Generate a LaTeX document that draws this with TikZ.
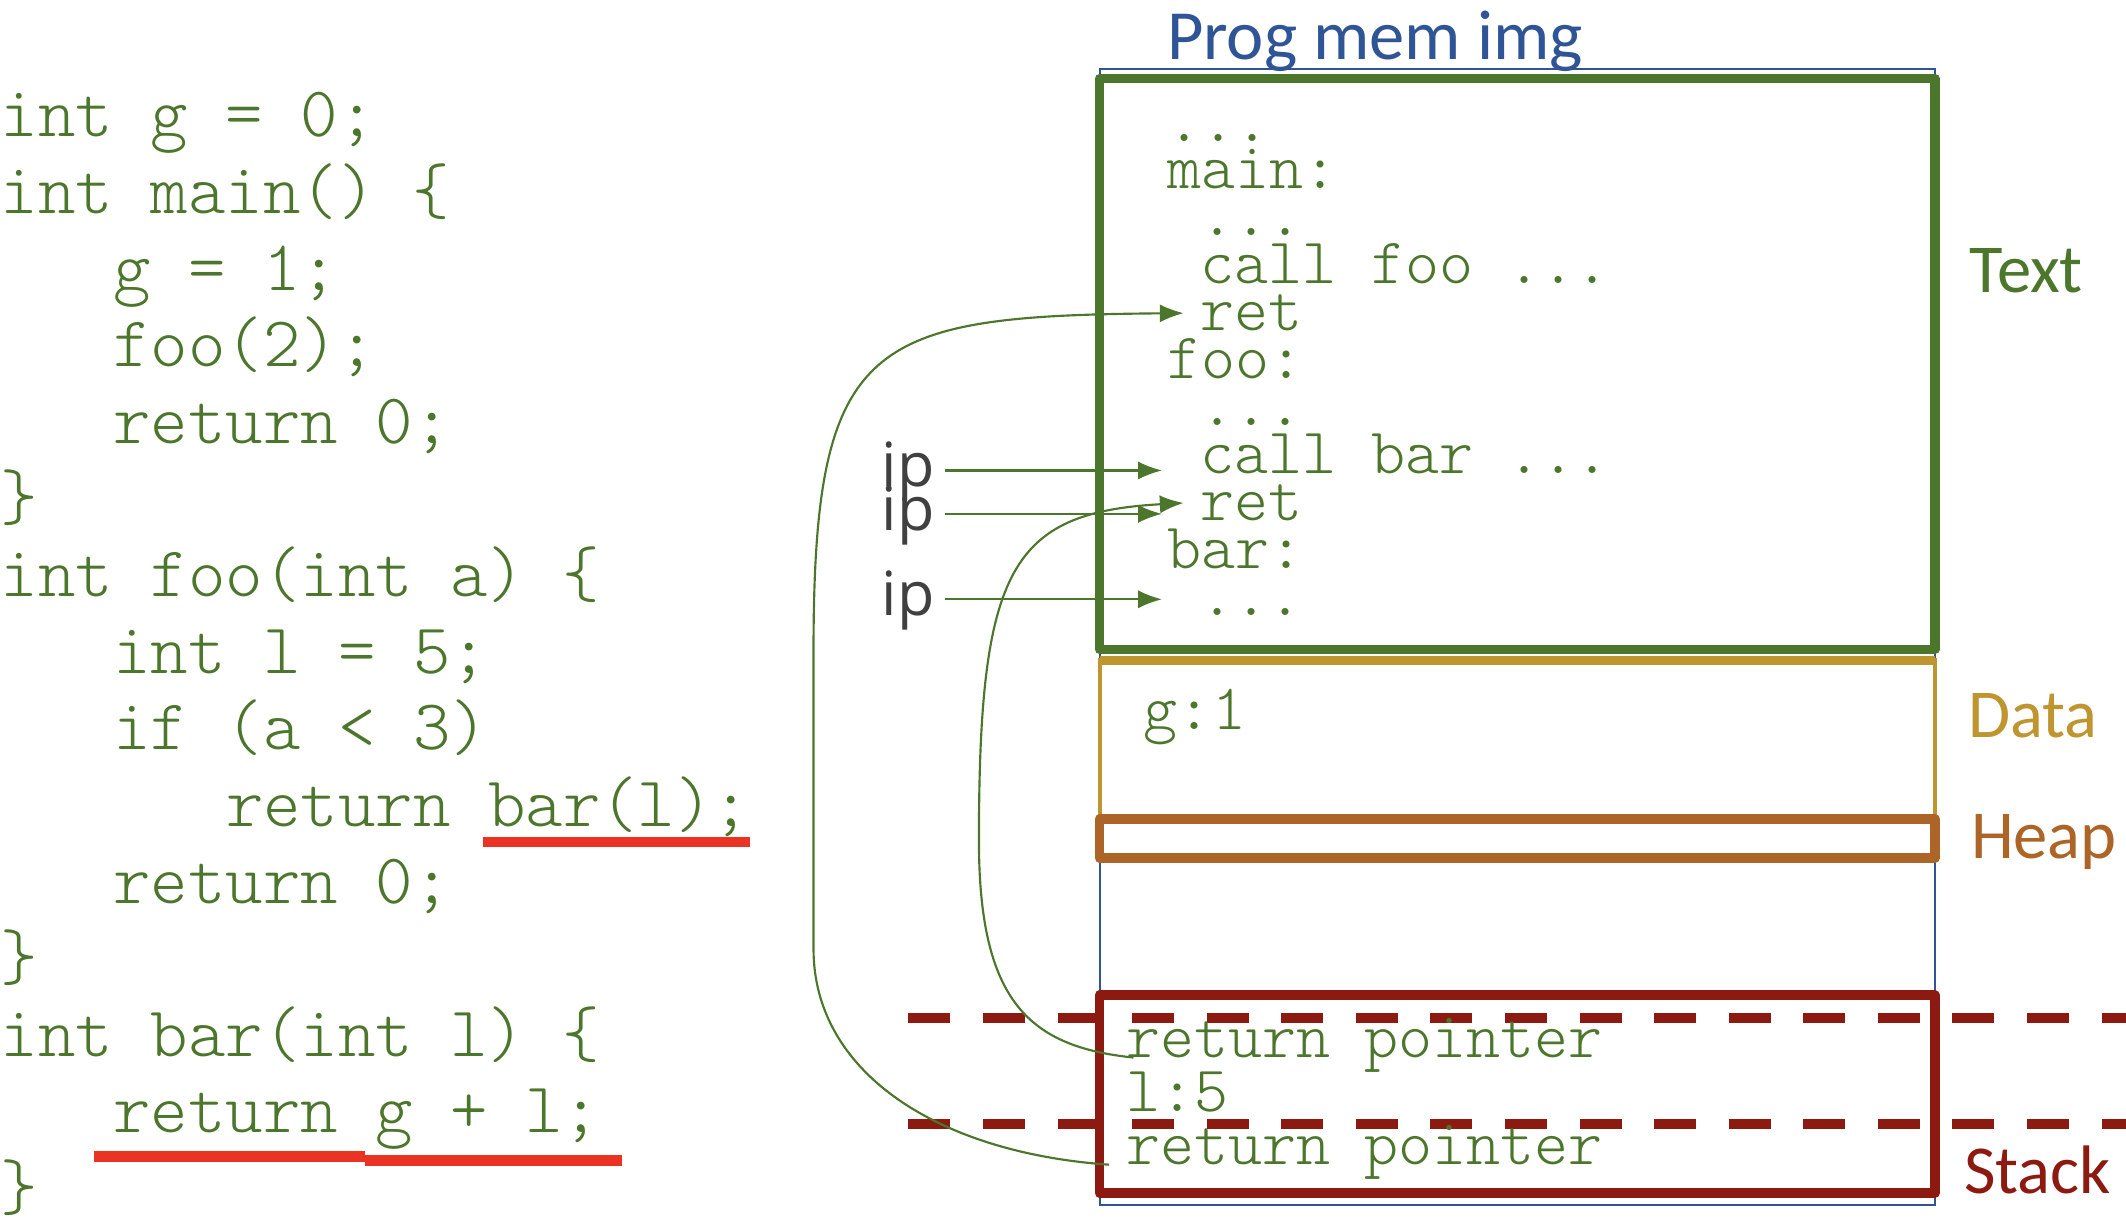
\documentclass[tikz,border=0pt]{standalone}
\usepackage{fontspec}
\usepackage{tikz}
\usetikzlibrary{arrows.meta}
\usetikzlibrary{calc}
\newfontfamily\codefont{lmmonolt10-regular.otf}
\newfontfamily\labelfont{Carlito}
\newfontfamily\ipfont{Open Sans}
\definecolor{codegreen}{RGB}{76,118,44}
\definecolor{memblue}{RGB}{47,85,151}
\definecolor{datagold}{RGB}{191,149,48}
\definecolor{heapbrown}{RGB}{173,101,39}
\definecolor{stackred}{RGB}{140,26,17}
\definecolor{ulred}{RGB}{234,51,35}
\definecolor{ipgray}{RGB}{64,64,64}

\begin{document}
\begin{tikzpicture}[x=0.1mm, y=-0.1mm,
    code/.style={font=\codefont\fontsize{14.97}{16}\selectfont, text=codegreen, anchor=base west, inner sep=0pt},
    asm/.style={font=\codefont\fontsize{13.6}{10}\selectfont, text=codegreen, anchor=base west, inner xsep=1.2mm, inner ysep=0pt},
    seglabel/.style={font=\labelfont\fontsize{14.4}{16}\selectfont, anchor=base west, inner sep=0pt},
    iplabel/.style={font=\ipfont\fontsize{12.8}{14}\selectfont, text=ipgray, anchor=east, text height=6.8pt, text depth=0pt, inner ysep=0pt, inner xsep=2pt},
    ptr/.style={-{Latex[length=5pt, width=3.8pt]}, codegreen, line width=0.45pt},
    segbox/.style={line width=2pt, line join=round},
    framedash/.style={stackred, line width=2pt, dash pattern=on 0.31cm off 0.24cm},
    under/.style={ulred, line width=2.2pt}]
    \useasboundingbox (0,0) rectangle (1568,903);

    \foreach \ind/\txt [count=\i] in {0/{int g = 0;}, 0/{int main() \{}, 1/{g = 1;}, 1/{foo(2);},
        1/{return 0;}, 0/{\}}, 0/{int foo(int a) \{}, 1/{int l = 5;}, 1/{if (a < 3)},
        2/{return bar(l);}, 1/{return 0;}, 0/{\}}, 0/{int bar(int l) \{}, 1/{return g + l;}, 0/{\}}}
        \node[code] (c\i) at ({\ind*83}, {101+(\i-1)*56.5}) {\txt};
    \draw[under] (356,621) -- (553,621);
    \draw[under] (69,853) -- (269,853);
    \draw[under] (269,856) -- (459,856);

    \draw[memblue, line width=0.45pt] (811,51) rectangle (1427,889);
    \draw[datagold, line width=0.8pt] (811,487) rectangle (1427,604);
    \draw[datagold, segbox] (811,487) -- (1427,487);
    \draw[heapbrown, segbox] (811,604) rectangle (1427,633);
    \draw[codegreen, segbox] (811,58) rectangle (1427,479);
    \draw[stackred, segbox] (811,734) rectangle (1427,880);
    \draw[framedash] (670,751) -- (1568,751);
    \draw[framedash] (670,829) -- (1568,829);

    \node[seglabel, text=memblue, font=\labelfont\fontsize{14.8}{16}\selectfont] (title) at (860,44) {Prog mem img};
    \node[seglabel, text=codegreen] (textlbl) at (1452,216) {Text};
    \node[seglabel, text=datagold] (datalbl) at (1451,544) {Data};
    \node[seglabel, text=heapbrown] (heaplbl) at (1453,633) {Heap};
    \node[seglabel, text=stackred] (stacklbl) at (1448,880) {Stack};

    \foreach \x/\y/\txt [count=\i] in {848/104/{...}, 848/139/{main:}, 873/174/{...},
        873/209/{call foo ...}, 873/244/{ret}, 848/279/{foo:}, 873/314/{...},
        873/349/{call bar ...}, 873/384/{ret}, 848/419/{bar:}, 873/454/{...}}
        \node[asm] (t\i) at (\x,\y) {\txt};
    \node[asm] (gval) at (831,538) {g:1};
    \node[asm] (s1) at (818,780) {return pointer};
    \node[asm] (s2) at (818,820) {l:5};
    \node[asm] (s3) at (818,859) {return pointer};

    \coordinate (iptip) at (857,0);
    \node[iplabel] (ip1) at (697,347) {ip};
    \node[iplabel] (ip2) at (697,379) {ip};
    \node[iplabel] (ip3) at (697,442) {ip};
    \draw[ptr] (ip1.east) -- (ip1.east -| iptip);
    \draw[ptr] (ip2.east) -- (ip2.east -| iptip);
    \draw[ptr] (ip3.east) -- (ip3.east -| iptip);

    \draw[ptr] (s3.base west) .. controls (690,850) and (600,790) .. (600,700)
        -- (600,480) .. controls (600,250) and (640,233) .. (t5.west);
    \draw[ptr] ($(s1.base west)+(18,0)$) .. controls (760,772) and (722,740) .. (722,620)
        .. controls (722,420) and (745,378) .. (t9.west);
\end{tikzpicture}
\end{document}
